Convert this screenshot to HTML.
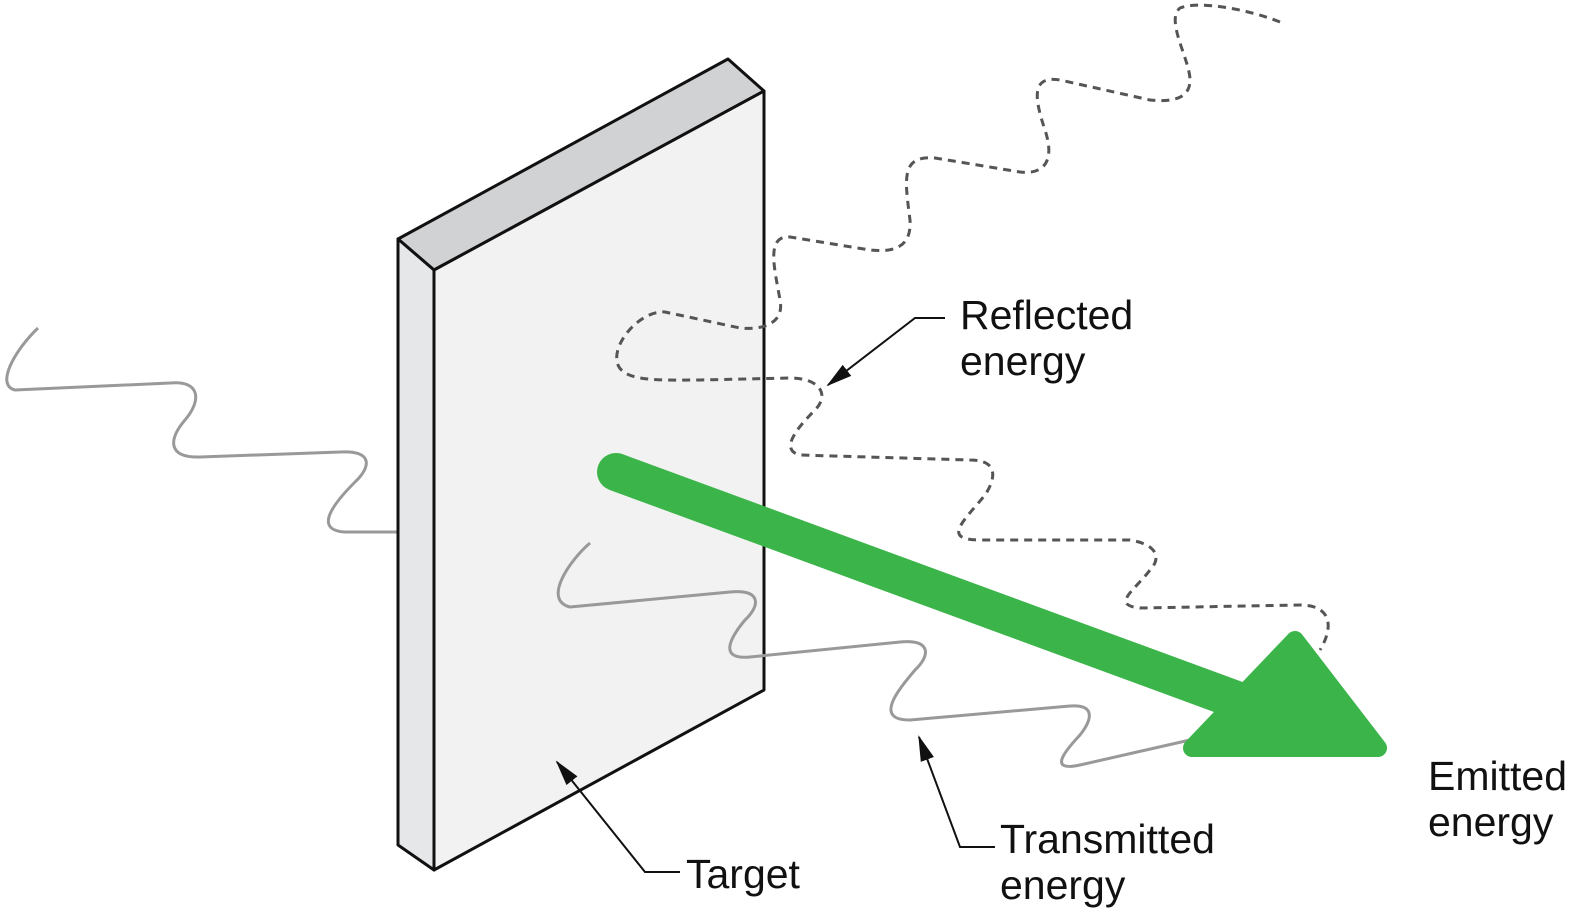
<!DOCTYPE html>
<html><head><meta charset="utf-8"><style>
html,body{margin:0;padding:0;background:#fff;}
svg{display:block;}
text{font-family:"Liberation Sans",sans-serif;font-size:41px;fill:#111;}
</style></head><body>
<svg width="1584" height="921" viewBox="0 0 1584 921" xmlns="http://www.w3.org/2000/svg">
<defs>
<marker id="ah" markerWidth="26" markerHeight="14" refX="24" refY="7" orient="auto" markerUnits="userSpaceOnUse">
<path d="M0,0 L26,7 L0,14 z" fill="#111"/></marker>
</defs>
<path d="M38,328 C15,350 -5,385 15,390 L170,383 C200,380 202,400 185,420 C168,440 168,458 200,457 L340,452 C372,450 372,466 355,482 C335,502 312,530 345,532 L398,532" fill="none" stroke="#999" stroke-width="3"/>
<polygon points="398,239 728,59 764,91 434,270" fill="#d1d2d4" stroke="#111" stroke-width="3" stroke-linejoin="round"/>
<polygon points="398,239 434,270 434,870 398,845" fill="#e6e7e8" stroke="#111" stroke-width="3" stroke-linejoin="round"/>
<polygon points="434,270 764,91 764,690 434,870" fill="#f2f2f2" stroke="#111" stroke-width="3" stroke-linejoin="round"/>
<path d="M590,543 C570,560 542,600 570,607 L730,592 C762,589 760,606 745,620 C730,638 718,660 750,657 L900,642 C932,639 930,656 915,670 C900,688 872,720 910,720 L1070,706 C1096,704 1092,720 1080,735 C1064,752 1048,772 1080,765 L1190,740" fill="none" stroke="#999" stroke-width="3"/>
<path d="M1280,22 C1250,10 1200,0 1180,8 C1165,20 1190,60 1190,80 C1190,100 1170,102 1150,100 L1060,80 C1030,75 1035,100 1045,130 C1055,160 1045,175 1020,172 L935,158 C900,155 905,180 910,220 C912,250 890,252 870,250 L790,237 C765,235 775,270 780,300 C785,325 760,330 740,328 L665,312 C640,310 610,345 618,365 C625,382 660,380 700,380 L790,378 C820,378 830,395 815,410 C795,430 780,450 800,455 L970,460 C1000,460 995,480 985,495 C965,520 940,540 980,540 L1130,540 C1160,545 1160,560 1150,570 C1135,590 1110,605 1140,608 L1300,605 C1330,605 1335,625 1320,650" fill="none" stroke="#555" stroke-width="3" stroke-dasharray="8,6"/>
<line x1="616" y1="472" x2="1250" y2="705" stroke="#3bb54a" stroke-width="38" stroke-linecap="round"/>
<polygon points="1295,640 1378,748 1192,748" fill="#3bb54a" stroke="#3bb54a" stroke-width="18" stroke-linejoin="round"/>
<polyline points="945,318 915,318 828,385" fill="none" stroke="#111" stroke-width="2" marker-end="url(#ah)"/>
<polyline points="995,847 960,847 919,737" fill="none" stroke="#111" stroke-width="2" marker-end="url(#ah)"/>
<polyline points="680,872 645,872 557,762" fill="none" stroke="#111" stroke-width="2" marker-end="url(#ah)"/>
<text x="960" y="329">Reflected</text>
<text x="960" y="375">energy</text>
<text x="1428" y="790">Emitted</text>
<text x="1428" y="836">energy</text>
<text x="1000" y="853">Transmitted</text>
<text x="1000" y="899">energy</text>
<text x="686" y="888">Target</text>
</svg>
</body></html>
